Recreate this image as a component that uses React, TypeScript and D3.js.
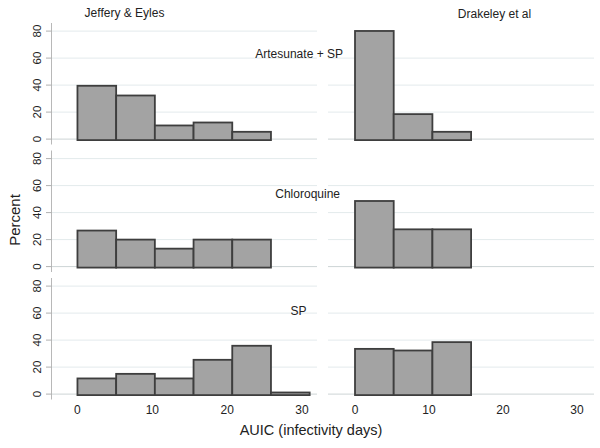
import React from "react";
import * as d3 from "d3";

// ---- data ----
const studies = ["Jeffery & Eyles", "Drakeley et al"];
const treatments = ["Artesunate + SP", "Chloroquine", "SP"];
// percent per bin (bins start at 0)
const jefferyArtesunateSP = [39.5, 32.3, 10.1, 12.3, 5.4];
const jefferyChloroquine = [26.7, 20, 13.3, 20, 20];
const jefferySP = [11.6, 15, 11.6, 25.4, 35.8, 1.2];
const drakeleyArtesunateSP = [80.1, 18.5, 5.4];
const drakeleyChloroquine = [48.6, 27.6, 27.6];
const drakeleySP = [33.5, 32.3, 38.5];
const binWidths = [5.17, 5.23];
const yTicks = [0, 20, 40, 60, 80];
const xTicks = [0, 10, 20, 30];
const yLabel = "Percent";
const xLabel = "AUIC (infectivity days)";

const panelData = [
  [jefferyArtesunateSP, drakeleyArtesunateSP],
  [jefferyChloroquine, drakeleyChloroquine],
  [jefferySP, drakeleySP],
];

const FONT = "'Liberation Sans', Arial, Helvetica, sans-serif";

export default function App() {
  const W = 600, H = 448;
  const colRanges: [number, number][] = [[52, 317], [328, 594]];
  const colDomains: [number, number][] = [[-3.4, 32], [-3.65, 32.3]];
  const xScales = colRanges.map((r, i) => d3.scaleLinear().domain(colDomains[i]).range(r));
  const panelTops = [23, 150.5, 278];
  const panelH = 121.5;
  const yScales = panelTops.map((t) => d3.scaleLinear().domain([-4, 86]).range([t + panelH, t]));

  const labelPos = [
    { x: 343, y: 58 },
    { x: 340, y: 197.5 },
    { x: 306.5, y: 315 },
  ];

  return (
    <svg width={W} height={H} style={{ position: "absolute", left: 0, top: 0, background: "#fff" }} fontFamily={FONT}>
      <rect x={0} y={0} width={W} height={H} fill="#fff" />
      {panelData.map((row, r) => {
        const y = yScales[r];
        return (
          <g key={r}>
            {/* gridlines */}
            {row.map((_, c) => {
              const x = xScales[c];
              const ticks = c === 0 ? yTicks : yTicks.filter((t) => t < 80);
              return ticks.map((t) => (
                <line key={`g${c}-${t}`} x1={x.range()[0]} x2={x.range()[1]} y1={y(t)} y2={y(t)}
                  stroke={t === 0 ? "#cdd4d6" : "#e3eaec"} strokeWidth={1} />
              ));
            })}
            {/* left axis */}
            <line x1={51.5} x2={51.5} y1={y.range()[1]} y2={y.range()[0]} stroke="#b8b8b8" strokeWidth={1} />
            {yTicks.map((t) => (
              <g key={`t${t}`}>
                <line x1={46} x2={51.5} y1={y(t)} y2={y(t)} stroke="#b0b0b0" strokeWidth={1} />
                <text transform={`translate(40.8,${y(t)}) rotate(-90)`} textAnchor="middle" fontSize={11.5} fill="#222">{t}</text>
              </g>
            ))}
            {/* bars */}
            {row.map((vals, c) => {
              const x = xScales[c];
              const bw = binWidths[c];
              return vals.map((v, i) => (
                <rect key={`b${c}-${i}`} x={x(i * bw)} y={y(v)} width={x((i + 1) * bw) - x(i * bw)} height={y(0) - y(v) + 1}
                  fill="#a3a3a3" stroke="#3e3e3e" strokeWidth={1.8} />
              ));
            })}
            <text x={labelPos[r].x} y={labelPos[r].y} textAnchor="end" fontSize={12} fill="#222">{treatments[r]}</text>
          </g>
        );
      })}
      {/* column titles */}
      <text x={124.5} y={17} textAnchor="middle" fontSize={12} fill="#222">{studies[0]}</text>
      <text x={494.5} y={17.5} textAnchor="middle" fontSize={12} fill="#222">{studies[1]}</text>
      {/* x tick labels */}
      {xScales.map((x, c) =>
        xTicks.map((t) => (
          <text key={`x${c}-${t}`} x={x(t)} y={413.5} textAnchor="middle" fontSize={12} fill="#222">{t}</text>
        ))
      )}
      <text x={311} y={435} textAnchor="middle" fontSize={14.5} fill="#222">{xLabel}</text>
      <text transform={`translate(19.5,220) rotate(-90)`} textAnchor="middle" fontSize={15} fill="#222">{yLabel}</text>
    </svg>
  );
}
